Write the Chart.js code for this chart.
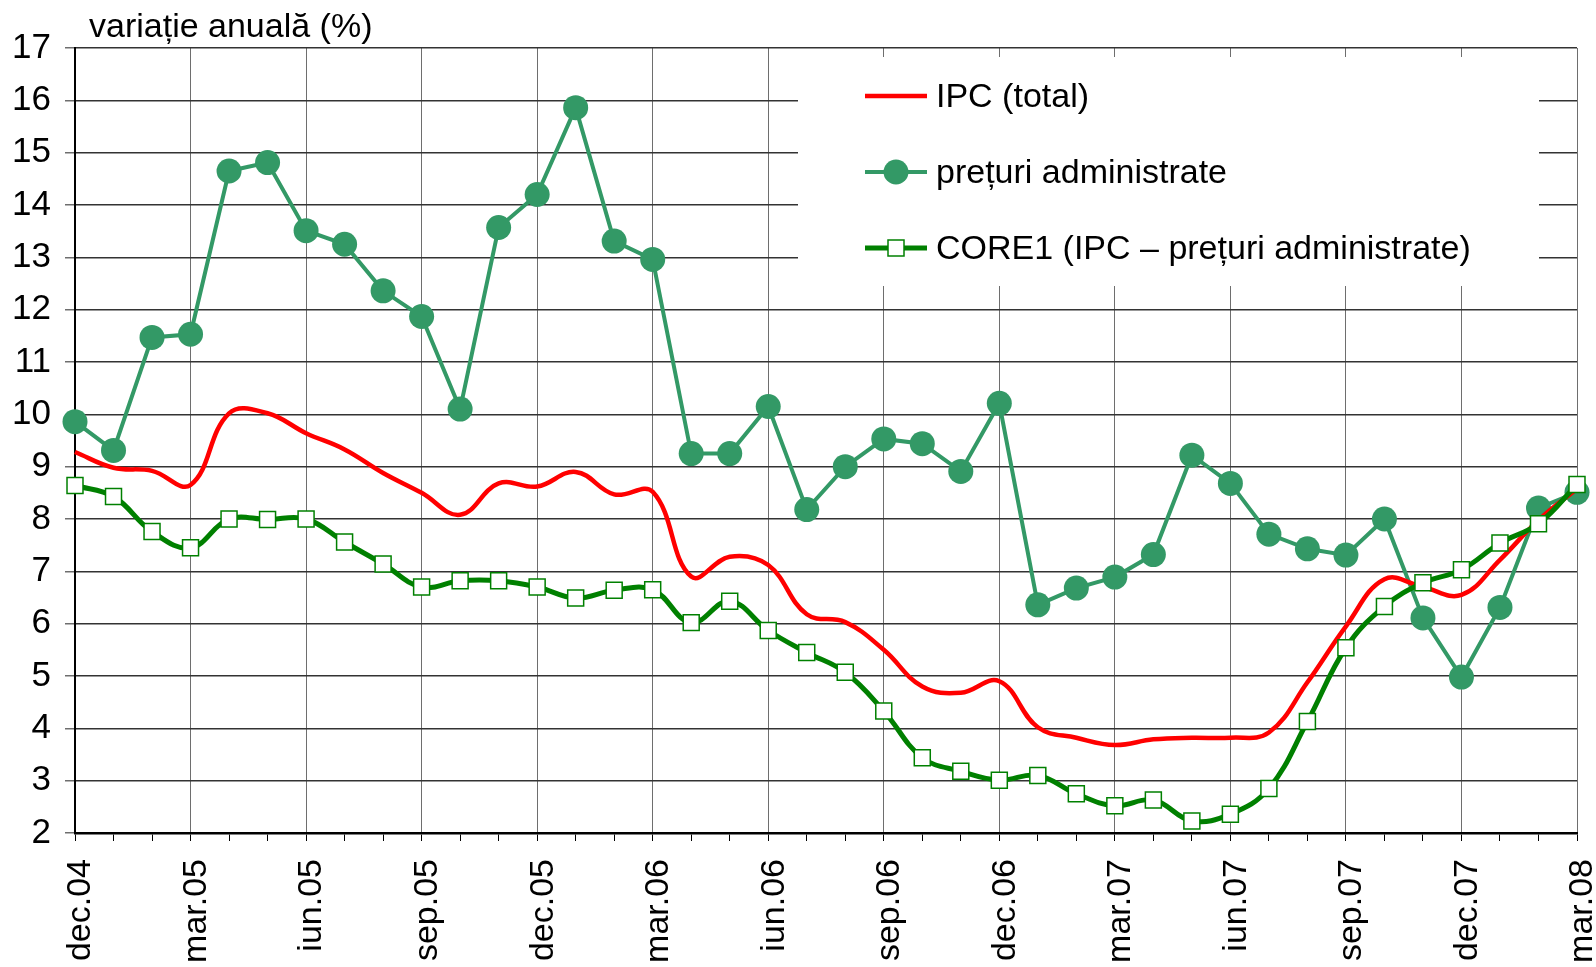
<!DOCTYPE html>
<html>
<head>
<meta charset="utf-8">
<script src="https://cdn.jsdelivr.net/npm/chart.js@4.4.1/dist/chart.umd.min.js"></script>
<style>
  html, body { margin: 0; padding: 0; background: #fff; }
  #wrap { width: 1596px; height: 967px; }
</style>
</head>
<body>
<div id="wrap"><canvas id="chart" width="1596" height="967"></canvas></div>
<script>
// luni: dec.04 - mar.08
const months = [
  'dec.04',
  'ian.05', 'feb.05', 'mar.05', 'apr.05', 'mai.05', 'iun.05', 'iul.05', 'aug.05', 'sep.05', 'oct.05', 'nov.05', 'dec.05',
  'ian.06', 'feb.06', 'mar.06', 'apr.06', 'mai.06', 'iun.06', 'iul.06', 'aug.06', 'sep.06', 'oct.06', 'nov.06', 'dec.06',
  'ian.07', 'feb.07', 'mar.07', 'apr.07', 'mai.07', 'iun.07', 'iul.07', 'aug.07', 'sep.07', 'oct.07', 'nov.07', 'dec.07',
  'ian.08', 'feb.08', 'mar.08'
];

const ipcTotal = [
  9.28,
  8.98, 8.92, 8.65, 10.02, 10.02, 9.64, 9.33, 8.88, 8.50, 8.08, 8.68, 8.62,
  8.90, 8.47, 8.52, 6.90, 7.28, 7.12, 6.18, 6.03, 5.50, 4.80, 4.68, 4.90,
  4.02, 3.82, 3.68, 3.79, 3.82, 3.82, 3.92, 4.88, 5.95, 6.85, 6.70, 6.55,
  7.22, 7.98, 8.58
];

const preturiAdministrate = [
  9.86,
  9.31, 11.47, 11.53, 14.65, 14.81, 13.51, 13.25, 12.36, 11.87, 10.10, 13.57, 14.20,
  15.86, 13.31, 12.96, 9.25, 9.25, 10.15, 8.18, 9.00, 9.53, 9.44, 8.91, 10.21,
  6.36, 6.68, 6.89, 7.32, 9.22, 8.68, 7.71, 7.43, 7.31, 8.00, 6.11, 4.98,
  6.31, 8.21, 8.51
];

const core1 = [
  8.64,
  8.43, 7.76, 7.45, 8.00, 7.99, 8.00, 7.56, 7.14, 6.70, 6.82, 6.82, 6.70,
  6.49, 6.64, 6.65, 6.02, 6.43, 5.87, 5.45, 5.07, 4.33, 3.44, 3.18, 3.01,
  3.10, 2.75, 2.52, 2.63, 2.23, 2.36, 2.85, 4.13, 5.54, 6.33, 6.78, 7.03,
  7.54, 7.91, 8.66
];

const yMin = 2, yMax = 17, yStep = 1;
const axisTitle = 'variație anuală (%)';
const seriesNames = ['IPC (total)', 'prețuri administrate', 'CORE1 (IPC – prețuri administrate)'];

const RED = '#ff0000';
const SEA = '#339966';
const GREEN = '#008000';

// legenda desenata in interiorul graficului, pe fond alb
const legendBox = {
  id: 'legendBox',
  beforeDatasetsDraw(chart) {
    const ctx = chart.ctx;
    ctx.save();
    ctx.fillStyle = '#fff';
    ctx.fillRect(798, 57, 741, 229);

    const rows = [96, 172, 248];
    const x0 = 865, x1 = 927, xm = 896;
    ctx.font = '34px "Liberation Sans", Arial, sans-serif';
    ctx.textBaseline = 'middle';

    // IPC
    ctx.strokeStyle = RED; ctx.lineWidth = 4.5;
    ctx.beginPath(); ctx.moveTo(x0, rows[0]); ctx.lineTo(x1, rows[0]); ctx.stroke();
    // preturi administrate
    ctx.strokeStyle = SEA; ctx.lineWidth = 4;
    ctx.beginPath(); ctx.moveTo(x0, rows[1]); ctx.lineTo(x1, rows[1]); ctx.stroke();
    ctx.fillStyle = SEA;
    ctx.beginPath(); ctx.arc(xm, rows[1], 12.5, 0, Math.PI * 2); ctx.fill();
    // CORE1
    ctx.strokeStyle = GREEN; ctx.lineWidth = 5;
    ctx.beginPath(); ctx.moveTo(x0, rows[2]); ctx.lineTo(x1, rows[2]); ctx.stroke();
    ctx.fillStyle = '#fff'; ctx.lineWidth = 1.5;
    ctx.fillRect(xm - 8, rows[2] - 8, 16, 16);
    ctx.strokeRect(xm - 8, rows[2] - 8, 16, 16);

    ctx.fillStyle = '#000';
    seriesNames.forEach((t, i) => ctx.fillText(t, 936, rows[i] + 2));
    ctx.restore();
  },
  afterDraw(chart) {
    const ctx = chart.ctx;
    ctx.save();
    ctx.fillStyle = '#000';
    ctx.font = '34px "Liberation Sans", Arial, sans-serif';
    ctx.textBaseline = 'alphabetic';
    ctx.fillText(axisTitle, 89, 37);
    ctx.restore();
  }
};

new Chart(document.getElementById('chart'), {
  type: 'line',
  data: {
    labels: months,
    datasets: [
      {
        label: seriesNames[2],
        data: core1,
        borderColor: GREEN,
        borderWidth: 5,
        tension: 0.4,
        pointStyle: 'rect',
        pointRadius: 11.3,
        pointBackgroundColor: '#fff',
        pointBorderColor: GREEN,
        pointBorderWidth: 1.5,
        clip: false,
        order: 0
      },
      {
        label: seriesNames[0],
        data: ipcTotal,
        borderColor: RED,
        borderWidth: 4.5,
        tension: 0.4,
        pointRadius: 0,
        clip: false,
        order: 1
      },
      {
        label: seriesNames[1],
        data: preturiAdministrate,
        borderColor: SEA,
        backgroundColor: SEA,
        borderWidth: 4,
        tension: 0,
        pointStyle: 'circle',
        pointRadius: 12.5,
        pointBackgroundColor: SEA,
        pointBorderColor: SEA,
        pointBorderWidth: 0,
        clip: false,
        order: 2
      }
    ]
  },
  options: {
    responsive: false,
    animation: false,
    devicePixelRatio: 1,
    layout: { padding: { top: 48, right: 19, left: 0, bottom: 0 } },
    plugins: {
      legend: { display: false },
      tooltip: { enabled: false },
      title: { display: false }
    },
    scales: {
      x: {
        offset: false,
        border: { display: true, color: '#000', width: 2.5 },
        grid: {
          color: c => (c.index % 3 === 0 ? '#6e6e6e' : 'rgba(0,0,0,0)'),
          lineWidth: 1,
          tickColor: '#000',
          tickLength: 8,
          drawTicks: true
        },
        ticks: {
          autoSkip: false,
          minRotation: 90,
          maxRotation: 90,
          padding: 18,
          labelOffset: 6,
          color: '#000',
          font: { family: '"Liberation Sans", Arial, sans-serif', size: 34 },
          callback: function (val, i) { return i % 3 === 0 ? this.getLabelForValue(val) : ''; }
        },
        afterFit: s => { s.height = 134; s.paddingLeft = 0; s.paddingRight = 0; }
      },
      y: {
        min: yMin,
        max: yMax,
        border: { display: true, color: '#000', width: 2 },
        grid: {
          color: '#333',
          lineWidth: 1.5,
          tickLength: 10,
          tickColor: '#6e6e6e'
        },
        ticks: {
          stepSize: yStep,
          padding: 14,
          color: '#000',
          font: { family: '"Liberation Sans", Arial, sans-serif', size: 35 }
        },
        afterFit: s => { s.width = 75; s.paddingTop = 0; s.paddingBottom = 0; }
      }
    }
  },
  plugins: [legendBox]
});
</script>
</body>
</html>
